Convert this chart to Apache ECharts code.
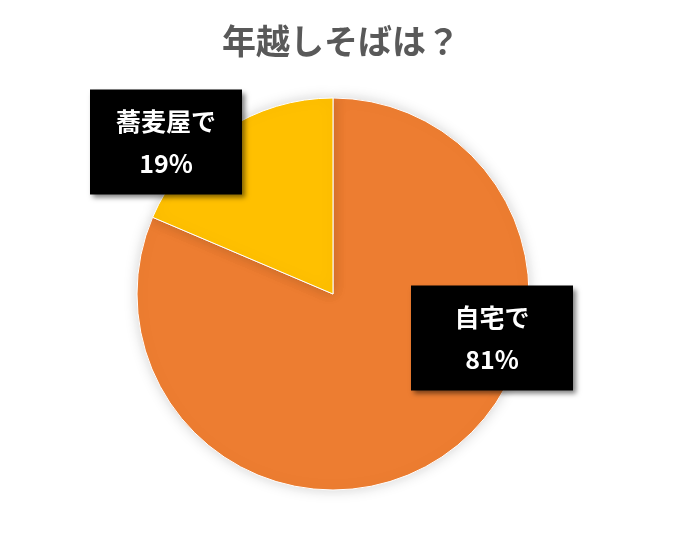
<!DOCTYPE html>
<html>
<head>
    <meta charset="utf-8" />
    <title>年越しそば</title>
    <script src="https://cdn.jsdelivr.net/npm/echarts@6/dist/echarts.min.js"></script>
    <style>
        html, body { margin: 0; padding: 0; background: #fff; }
        #container { width: 681px; height: 540px; }
    </style>
</head>
<body>
    <div id="container"></div>
</body>
</html>
<script>
    // データ（表示は整数％）
    var categories = ["自宅で", "蕎麦屋で"];
    var values = [81.4, 18.6];
    var colors = ["#ED7D31", "#FFC000"];

    // ラベル位置（画面座標）と箱の幅
    var labelPos = [[492, 338], [166, 142]];
    var labelWidth = [162, 152];

    var myChart = echarts.init(document.getElementById("container"));

    var pieData = [];
    for (var i = 0; i < categories.length; i++) {
        pieData.push({
            name: categories[i],
            value: values[i],
            itemStyle: { color: colors[i] },
            label: { width: labelWidth[i] }
        });
    }

    myChart.setOption({
        animation: false,
        title: {
            text: "年越しそばは？",
            left: 336,
            textAlign: "center",
            top: 19,
            textStyle: {
                fontFamily: "Noto Sans CJK JP",
                fontSize: 34,
                fontWeight: "bold",
                color: "#595959"
            }
        },
        series: [{
            type: "pie",
            center: [333, 294],
            radius: 196,
            startAngle: 90,
            clockwise: true,
            percentPrecision: 0,
            itemStyle: {
                borderColor: "#fff",
                borderWidth: 1,
                shadowBlur: 14,
                shadowColor: "rgba(0,0,0,0.18)"
            },
            emphasis: { disabled: true },
            labelLine: { show: false },
            label: {
                show: true,
                formatter: "{b}\n{d}%",
                fontFamily: "Noto Sans CJK JP",
                fontSize: 25,
                fontWeight: "bold",
                color: "#fff",
                lineHeight: 42,
                height: 84,
                padding: [14, 0, 7, 0],
                align: "center",
                backgroundColor: "#000",
                shadowColor: "rgba(0,0,0,0.5)",
                shadowBlur: 5,
                shadowOffsetX: 3,
                shadowOffsetY: 3
            },
            labelLayout: function (params) {
                var p = labelPos[params.dataIndex];
                return { x: p[0], y: p[1], align: "center", verticalAlign: "middle" };
            },
            data: pieData
        }]
    });
</script>
